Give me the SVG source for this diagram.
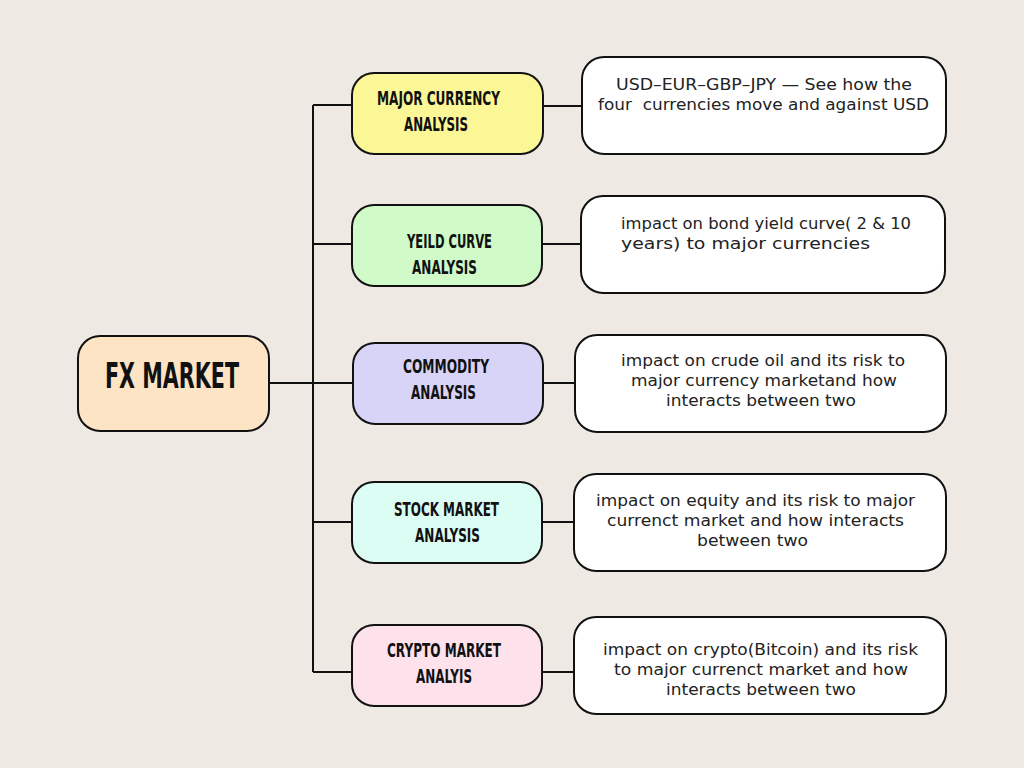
<svg xmlns="http://www.w3.org/2000/svg" width="1024" height="768" viewBox="0 0 1024 768">
<style>
.bg{fill:#eeeae3}
.node{stroke:#111;stroke-width:2}
.desc{fill:#fff;stroke:#111;stroke-width:2}
.conn{stroke:#111;stroke-width:2;fill:none}
.title{font-family:"DejaVu Sans","Liberation Sans",sans-serif;font-weight:bold;fill:#111;font-size:19px}
.body{font-family:"DejaVu Sans","Noto Sans","Liberation Sans",sans-serif;font-size:15px;fill:#222}
</style>
<rect class="bg" x="0" y="0" width="1024" height="768"/>
<g id="connectors">
<path class="conn" d="M313 105 V672"/>
<path class="conn" d="M269 383 H352"/>
<path class="conn" d="M313 105 H352 M313 244 H352 M313 522 H352 M313 672 H352"/>
<path class="conn" d="M543 106 H582 M543 244 H581 M543 383 H575 M543 522 H574 M543 672 H574"/>
</g>
<g id="fx-market">
<rect class="node" x="78" y="336" width="191" height="95" rx="22" fill="#fde4c4"/>
<text class="title" x="105" y="388" style="font-size:36px" textLength="134" lengthAdjust="spacingAndGlyphs">FX MARKET</text>
</g>
<g id="major-currency">
<rect class="node" x="352" y="73" width="191" height="81" rx="22" fill="#fbf796"/>
<text class="title" x="377" y="105" textLength="123" lengthAdjust="spacingAndGlyphs">MAJOR CURRENCY</text>
<text class="title" x="404" y="131" textLength="64" lengthAdjust="spacingAndGlyphs">ANALYSIS</text>
</g>
<g id="yield-curve">
<rect class="node" x="352" y="205" width="190" height="81" rx="22" fill="#d0fbc8"/>
<text class="title" x="407" y="248" textLength="85" lengthAdjust="spacingAndGlyphs">YEILD CURVE</text>
<text class="title" x="412" y="274" textLength="65" lengthAdjust="spacingAndGlyphs">ANALYSIS</text>
</g>
<g id="commodity">
<rect class="node" x="353" y="343" width="190" height="81" rx="22" fill="#d8d4f8"/>
<text class="title" x="403" y="373" textLength="86" lengthAdjust="spacingAndGlyphs">COMMODITY</text>
<text class="title" x="411" y="399" textLength="65" lengthAdjust="spacingAndGlyphs">ANALYSIS</text>
</g>
<g id="stock-market">
<rect class="node" x="352" y="482" width="190" height="81" rx="22" fill="#dcfdf3"/>
<text class="title" x="394" y="516" textLength="105" lengthAdjust="spacingAndGlyphs">STOCK MARKET</text>
<text class="title" x="415" y="542" textLength="65" lengthAdjust="spacingAndGlyphs">ANALYSIS</text>
</g>
<g id="crypto-market">
<rect class="node" x="352" y="625" width="190" height="81" rx="22" fill="#fde2ec"/>
<text class="title" x="387" y="657" textLength="114" lengthAdjust="spacingAndGlyphs">CRYPTO MARKET</text>
<text class="title" x="416" y="683" textLength="56" lengthAdjust="spacingAndGlyphs">ANALYIS</text>
</g>
<g id="desc-major">
<rect class="desc" x="582" y="57" width="364" height="97" rx="22"/>
<text class="body" x="616" y="90" textLength="296" lengthAdjust="spacingAndGlyphs">USD–EUR–GBP–JPY — See how the</text>
<text class="body" x="598" y="110" textLength="331" lengthAdjust="spacingAndGlyphs" xml:space="preserve">four  currencies move and against USD</text>
</g>
<g id="desc-yield">
<rect class="desc" x="581" y="196" width="364" height="97" rx="22"/>
<text class="body" x="621" y="229" textLength="290" lengthAdjust="spacingAndGlyphs">impact on bond yield curve( 2 &amp; 10</text>
<text class="body" x="621" y="249" textLength="249" lengthAdjust="spacingAndGlyphs">years) to major currencies</text>
</g>
<g id="desc-commodity">
<rect class="desc" x="575" y="335" width="371" height="97" rx="22"/>
<text class="body" x="621" y="366" textLength="284" lengthAdjust="spacingAndGlyphs">impact on crude oil and its risk to</text>
<text class="body" x="631" y="386" textLength="266" lengthAdjust="spacingAndGlyphs">major currency marketand how</text>
<text class="body" x="666" y="406" textLength="190" lengthAdjust="spacingAndGlyphs">interacts between two</text>
</g>
<g id="desc-stock">
<rect class="desc" x="574" y="474" width="372" height="97" rx="22"/>
<text class="body" x="596" y="506" textLength="319" lengthAdjust="spacingAndGlyphs">impact on equity and its risk to major</text>
<text class="body" x="607" y="526" textLength="297" lengthAdjust="spacingAndGlyphs">currenct market and how interacts</text>
<text class="body" x="697" y="546" textLength="111" lengthAdjust="spacingAndGlyphs">between two</text>
</g>
<g id="desc-crypto">
<rect class="desc" x="574" y="617" width="372" height="97" rx="22"/>
<text class="body" x="603" y="655" textLength="315" lengthAdjust="spacingAndGlyphs">impact on crypto(Bitcoin) and its risk</text>
<text class="body" x="614" y="675" textLength="294" lengthAdjust="spacingAndGlyphs">to major currenct market and how</text>
<text class="body" x="666" y="695" textLength="190" lengthAdjust="spacingAndGlyphs">interacts between two</text>
</g>
</svg>
